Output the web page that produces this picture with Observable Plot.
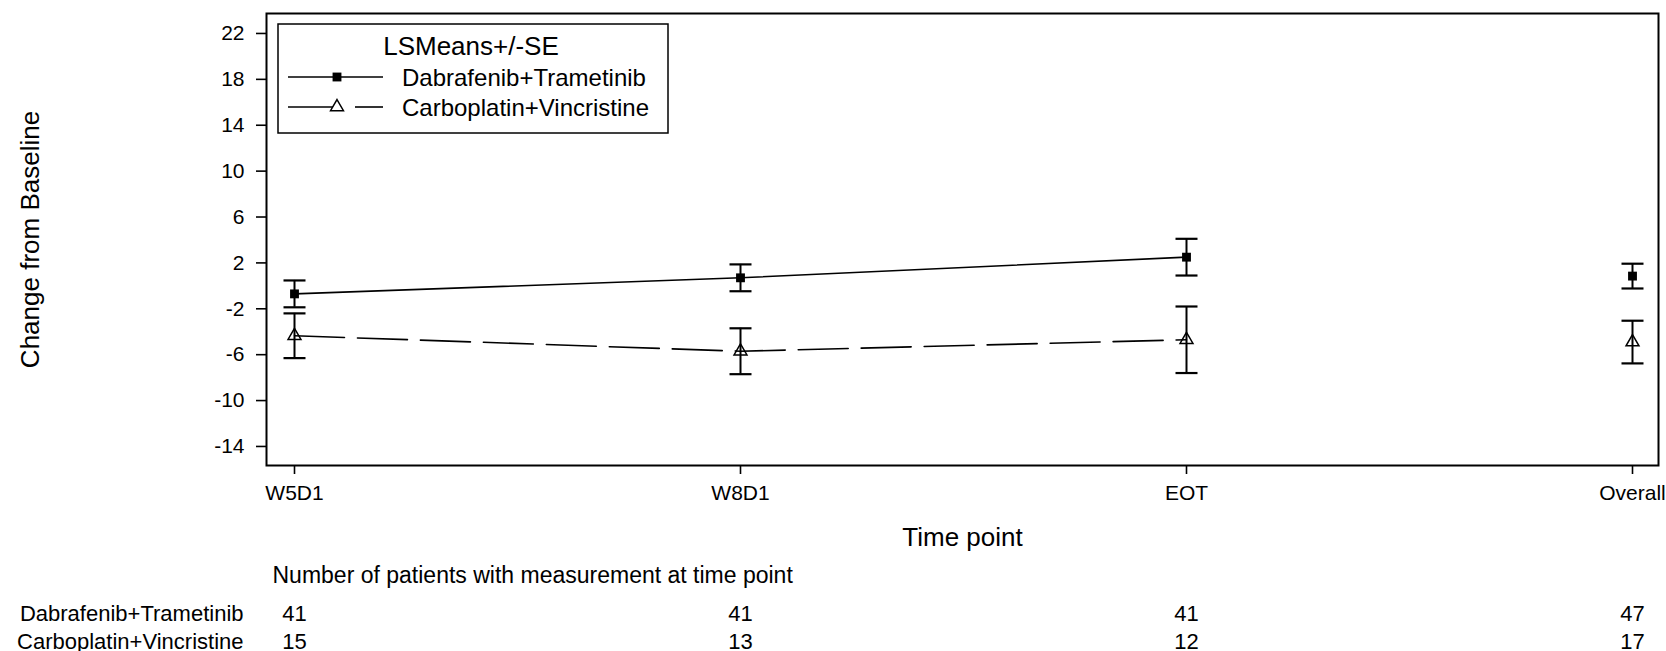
<!DOCTYPE html>
<html>
<head>
<meta charset="utf-8">
<script src="https://cdn.jsdelivr.net/npm/d3@7"></script>
<script src="https://cdn.jsdelivr.net/npm/@observablehq/plot@0.6"></script>
<style>
  html, body { margin: 0; padding: 0; background: #fff; }
  #chart { position: relative; width: 1666px; height: 651px; }
</style>
</head>
<body>
<div id="chart"></div>
<script>
// ---- Data ----
const timepoints = ["W5D1", "W8D1", "EOT", "Overall"];
const seriesNames = ["Dabrafenib+Trametinib", "Carboplatin+Vincristine"];
const dtMean = [-0.7, 0.7, 2.5, 0.85];
const dtSE   = [1.17, 1.17, 1.6, 1.08];
const cvMean = [-4.35, -5.7, -4.7, -4.9];
const cvSE   = [1.95, 2.0, 2.9, 1.86];
const dtN = [41, 41, 41, 47];
const cvN = [15, 13, 12, 17];
const yTicks = [-14, -10, -6, -2, 2, 6, 10, 14, 18, 22];
const yLabel = "Change from Baseline";
const xLabel = "Time point";
const legendTitle = "LSMeans+/-SE";
const tableTitle = "Number of patients with measurement at time point";

// ---- Build tables ----
const dtRows = timepoints.map((t, i) => ({time: t, series: seriesNames[0], mean: dtMean[i], se: dtSE[i]}));
const cvRows = timepoints.map((t, i) => ({time: t, series: seriesNames[1], mean: cvMean[i], se: cvSE[i]}));
const allRows = dtRows.concat(cvRows);
const lineTimes = timepoints.slice(0, 3);
const dtCounts = timepoints.map((t, i) => ({time: t, n: dtN[i]}));
const cvCounts = timepoints.map((t, i) => ({time: t, n: cvN[i]}));

const FONT = "'Liberation Sans', Arial, sans-serif";
const cap = {draw(ctx) { ctx.moveTo(-11, 0); ctx.lineTo(11, 0); }};

const plot = Plot.plot({
  width: 1666,
  height: 651,
  marginLeft: 266,
  marginRight: 8,
  marginTop: 13,
  marginBottom: 186,
  style: {fontFamily: FONT, fontSize: "21px", color: "black", background: "white", overflow: "visible"},
  x: {type: "point", domain: timepoints, padding: 0, insetLeft: 27.5, insetRight: 26.5, label: null},
  y: {domain: [-15.66, 23.74], label: null},
  marks: [
    Plot.frame({stroke: "black", strokeWidth: 2}),
    Plot.axisY({ticks: yTicks, tickFormat: d => String(d), tickSize: 10, tickPadding: 12, fontSize: 21, strokeWidth: 1.6, label: null}),
    Plot.axisX({tickSize: 9, tickPadding: 11, fontSize: 21, strokeWidth: 1.6, label: null}),
    // error bars
    Plot.ruleX(allRows, {x: "time", y1: d => d.mean - d.se, y2: d => d.mean + d.se, stroke: "black", strokeWidth: 2}),
    Plot.dot(allRows, {x: "time", y: d => d.mean + d.se, symbol: cap, fill: "none", stroke: "black", strokeWidth: 2.2}),
    Plot.dot(allRows, {x: "time", y: d => d.mean - d.se, symbol: cap, fill: "none", stroke: "black", strokeWidth: 2.2}),
    // lines
    Plot.line(dtRows.filter(d => lineTimes.includes(d.time)), {x: "time", y: "mean", stroke: "black", strokeWidth: 1.6}),
    Plot.line(cvRows.filter(d => lineTimes.includes(d.time)), {x: "time", y: "mean", stroke: "black", strokeWidth: 1.6, strokeDasharray: "50,13"}),
    // markers
    Plot.dot(dtRows, {x: "time", y: "mean", symbol: "square", fill: "black", r: 5}),
    Plot.dot(cvRows, {x: "time", y: "mean", symbol: "triangle", fill: "none", stroke: "black", strokeWidth: 1.5, r: 4.8}),
    // axis titles
    Plot.text([yLabel], {text: d => d, frameAnchor: "left", dx: -236, rotate: -90, textAnchor: "middle", lineAnchor: "middle", fontSize: 26, fill: "black"}),
    Plot.text([xLabel], {text: d => d, frameAnchor: "bottom", dy: 62, lineAnchor: "top", fontSize: 26, fill: "black"}),
    // patient counts table
    Plot.text([tableTitle], {text: d => d, frameAnchor: "bottom-left", dx: 6, dy: 101, lineAnchor: "top", textAnchor: "start", fontSize: 23, fill: "black"}),
    Plot.text([seriesNames[0]], {text: d => d, frameAnchor: "bottom-left", dx: -23, dy: 140, lineAnchor: "top", textAnchor: "end", fontSize: 22, fill: "black"}),
    Plot.text([seriesNames[1]], {text: d => d, frameAnchor: "bottom-left", dx: -23, dy: 168, lineAnchor: "top", textAnchor: "end", fontSize: 22, fill: "black"}),
    Plot.text(dtCounts, {x: "time", text: d => String(d.n), frameAnchor: "bottom", dy: 140, lineAnchor: "top", fontSize: 22, fill: "black"}),
    Plot.text(cvCounts, {x: "time", text: d => String(d.n), frameAnchor: "bottom", dy: 168, lineAnchor: "top", fontSize: 22, fill: "black"})
  ]
});

document.getElementById("chart").appendChild(plot);

// ---- Legend inside the plot frame (top-left) ----
const svg = d3.select(plot);
const lg = svg.append("g").attr("font-family", FONT).attr("fill", "black");
lg.append("rect").attr("x", 278).attr("y", 24).attr("width", 390).attr("height", 109)
  .attr("fill", "white").attr("stroke", "black").attr("stroke-width", 1.5);
lg.append("text").attr("x", 471).attr("y", 55).attr("text-anchor", "middle").attr("font-size", 26).text(legendTitle);
// row 1
lg.append("line").attr("x1", 288).attr("x2", 383).attr("y1", 77).attr("y2", 77).attr("stroke", "black").attr("stroke-width", 1.6);
lg.append("path").attr("d", d3.symbol(d3.symbolSquare, 78.5)()).attr("transform", "translate(337,77)").attr("fill", "black");
lg.append("text").attr("x", 402).attr("y", 86).attr("text-anchor", "start").attr("font-size", 24).text(seriesNames[0]);
// row 2
lg.append("line").attr("x1", 288).attr("x2", 337).attr("y1", 107).attr("y2", 107).attr("stroke", "black").attr("stroke-width", 1.6);
lg.append("line").attr("x1", 355).attr("x2", 383).attr("y1", 107).attr("y2", 107).attr("stroke", "black").attr("stroke-width", 1.6);
lg.append("path").attr("d", d3.symbol(d3.symbolTriangle, Math.PI * 4.8 * 4.8)()).attr("transform", "translate(337,107)")
  .attr("fill", "white").attr("stroke", "black").attr("stroke-width", 1.5);
lg.append("text").attr("x", 402).attr("y", 116).attr("text-anchor", "start").attr("font-size", 24).text(seriesNames[1]);
</script>
</body>
</html>
